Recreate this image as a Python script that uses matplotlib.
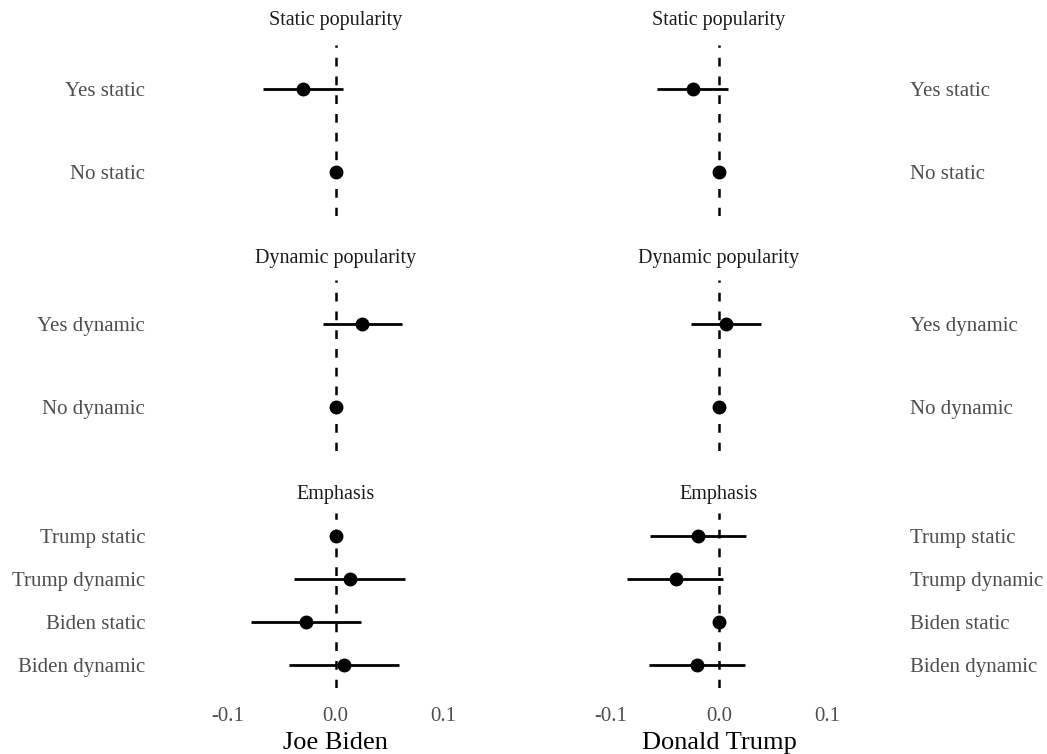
"""Coefficient plot: effect of popularity cues and emphasis, by candidate."""

import matplotlib
matplotlib.use("Agg")
import matplotlib.pyplot as plt
import pandas as pd

plt.rcParams["font.family"] = ["Liberation Serif", "DejaVu Serif"]

facets = ["Static popularity", "Dynamic popularity", "Emphasis"]
terms = ["Yes static", "No static",
         "Yes dynamic", "No dynamic",
         "Trump static", "Trump dynamic", "Biden static", "Biden dynamic"]
term_facet = ["Static popularity"] * 2 + ["Dynamic popularity"] * 2 + ["Emphasis"] * 4

candidates = ["Joe Biden", "Donald Trump"]
biden_est = [-0.030, 0.0, 0.025, 0.0, 0.0, 0.013, -0.027, 0.008]
biden_lo = [-0.067, 0.0, -0.012, 0.0, 0.0, -0.038, -0.078, -0.043]
biden_hi = [0.007, 0.0, 0.062, 0.0, 0.0, 0.064, 0.024, 0.059]
trump_est = [-0.024, 0.0, 0.0065, 0.0, -0.019, -0.040, 0.0, -0.020]
trump_lo = [-0.057, 0.0, -0.026, 0.0, -0.064, -0.085, 0.0, -0.065]
trump_hi = [0.008, 0.0, 0.039, 0.0, 0.025, 0.004, 0.0, 0.024]

x_ticks = [-0.1, 0.0, 0.1]
x_tick_labels = ["-0.1", "0.0", "0.1"]

df = pd.concat([
    pd.DataFrame({"candidate": "Joe Biden", "term": terms, "facet": term_facet,
                  "est": biden_est, "lo": biden_lo, "hi": biden_hi}),
    pd.DataFrame({"candidate": "Donald Trump", "term": terms, "facet": term_facet,
                  "est": trump_est, "lo": trump_lo, "hi": trump_hi}),
], ignore_index=True)

W, H = 1047, 754
fig = plt.figure(figsize=(W / 100, H / 100), dpi=100)

# panel boxes in pixels: (left, right) per column, (top, bottom) per row
col_px = [(152, 519), (535, 903)]
row_px = [(45, 216), (280, 451), (513, 688)]
strip_y_px = [20, 259, 494]

tick_grey = "#4d4d4d"
for ci, cand in enumerate(candidates):
    for ri, facet in enumerate(facets):
        l, r = col_px[ci]
        t, b = row_px[ri]
        ax = fig.add_axes([l / W, 1 - b / H, (r - l) / W, (b - t) / H])
        sub = df[(df.candidate == cand) & (df.facet == facet)].reset_index(drop=True)
        n = len(sub)
        ypos = [n - i for i in range(n)]  # first term on top

        ax.hlines(ypos, sub["lo"], sub["hi"], color="black", lw=2.0, zorder=2)
        ax.axvline(0, color="black", lw=1.8, ls=(0, (3.5, 4.0)), zorder=3)
        ax.plot(sub["est"], ypos, "o", color="black", ms=9, zorder=4)

        ax.set_xlim(-0.17, 0.17)
        ax.set_ylim(0.47, n + 0.53)
        ax.set_yticks(ypos)
        ax.set_yticklabels(sub["term"], fontsize=15, color=tick_grey)
        if ci == 1:
            ax.yaxis.tick_right()
        ax.tick_params(axis="both", length=0, pad=5)

        if ri == len(facets) - 1:
            ax.set_xticks(x_ticks)
            ax.set_xticklabels(x_tick_labels, fontsize=15, color=tick_grey)
            ax.tick_params(axis="x", pad=14)
            ax.set_xlabel(cand, fontsize=19, color="black", labelpad=4)
        else:
            ax.set_xticks([])

        fig.text((l + r) / 2 / W, 1 - strip_y_px[ri] / H, facet,
                 ha="center", va="center", fontsize=14.5, color="#1a1a1a")

        for s in ax.spines.values():
            s.set_visible(False)
        ax.patch.set_alpha(0)

fig.savefig("out.png", dpi=100, facecolor="white")
